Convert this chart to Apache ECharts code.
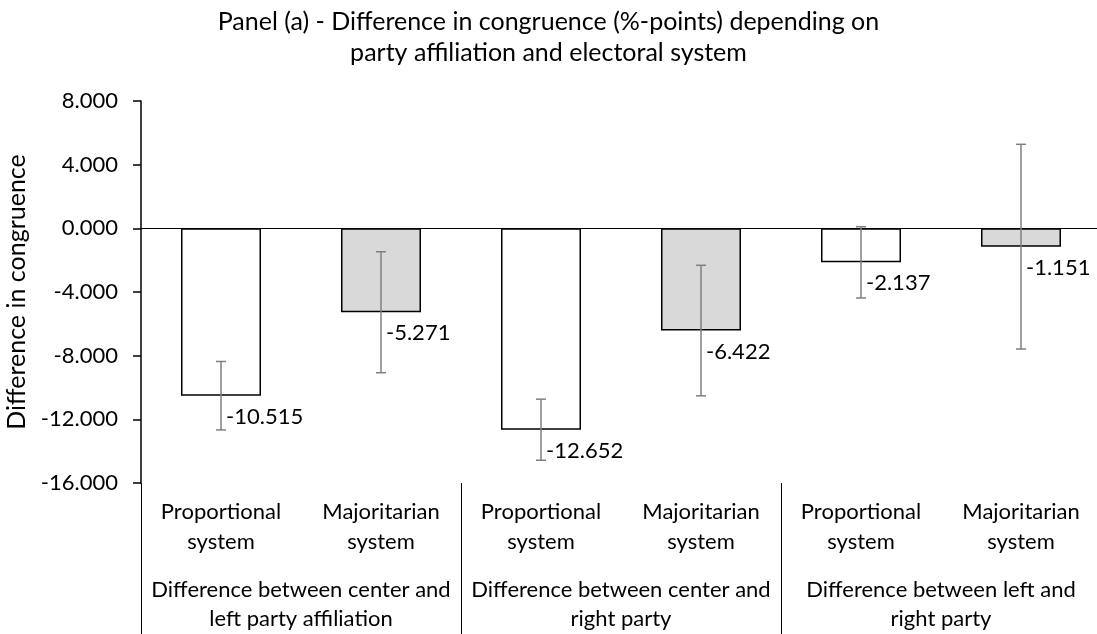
<!DOCTYPE html>
<html>
<head>
<meta charset="utf-8">
<title>Panel (a)</title>
<script src="https://cdn.jsdelivr.net/npm/echarts@6/dist/echarts.min.js"></script>
<style>
  html, body { margin: 0; padding: 0; background: #fff; }
  #chart { width: 1097px; height: 634px; }
</style>
</head>
<body>
<div id="chart"></div>
<script>
// data
const subCategories = [
  'Proportional\nsystem', 'Majoritarian\nsystem',
  'Proportional\nsystem', 'Majoritarian\nsystem',
  'Proportional\nsystem', 'Majoritarian\nsystem'
]
const groupLabels = [
  'Difference between center and\nleft party affiliation',
  'Difference between center and\nright party',
  'Difference between left and\nright party'
]
const values = [-10.515, -5.271, -12.652, -6.422, -2.137, -1.151]
// half width of the error bars (symmetric)
const errors = [2.15, 3.80, 1.92, 4.10, 2.24, 6.43]
const yMin = -16
const yMax = 8
const yStep = 4

const FONT = 'Lato, "Liberation Sans", sans-serif'
const fills = ['#ffffff', '#d9d9d9']

const chart = echarts.init(document.getElementById('chart'))

const errorData = values.map((v, i) => [i, v - errors[i], v + errors[i]])

const option = {
  backgroundColor: '#fff',
  animation: false,
  title: {
    text: 'Panel (a) - Difference in congruence (%-points) depending on\nparty affiliation and electoral system',
    left: 'center',
    top: 1,
    textStyle: {
      fontFamily: FONT,
      fontSize: 25,
      lineHeight: 31,
      fontWeight: 'normal',
      color: '#000'
    }
  },
  grid: {
    left: 141,
    right: -4,
    top: 101,
    bottom: 151,
    outerBoundsMode: 'none'
  },
  xAxis: [
    {
      type: 'category',
      position: 'bottom',
      data: subCategories,
      axisLine: { show: false, onZero: false },
      axisTick: { show: false },
      axisLabel: {
        interval: 0,
        margin: 14,
        fontFamily: FONT,
        fontSize: 22,
        lineHeight: 30,
        color: '#000'
      }
    },
    {
      type: 'category',
      position: 'bottom',
      data: groupLabels,
      axisLine: { show: false, onZero: false },
      axisTick: {
        show: true,
        interval: 0,
        length: 151,
        lineStyle: { color: '#000', width: 1 }
      },
      axisLabel: {
        interval: 0,
        margin: 92,
        fontFamily: FONT,
        fontSize: 22,
        lineHeight: 29,
        color: '#000'
      }
    }
  ],
  yAxis: {
    type: 'value',
    min: yMin,
    max: yMax,
    interval: yStep,
    name: 'Difference in congruence',
    nameLocation: 'middle',
    nameRotate: 90,
    nameGap: 91,
    nameTextStyle: {
      fontFamily: FONT,
      fontSize: 25,
      color: '#000'
    },
    axisLine: { show: true, lineStyle: { color: '#000', width: 1.5 } },
    axisTick: { show: true, length: 8, lineStyle: { color: '#000', width: 1.5 } },
    splitLine: { show: false },
    axisLabel: {
      margin: 23,
      fontFamily: FONT,
      fontSize: 22,
      color: '#000',
      formatter: v => v.toFixed(3)
    }
  },
  series: [
    {
      type: 'bar',
      xAxisIndex: 0,
      data: values,
      barWidth: 80,
      itemStyle: {
        color: p => fills[p.dataIndex % 2],
        borderColor: '#000',
        borderWidth: 1.5
      },
      label: {
        show: true,
        position: ['50%', '100%'],
        offset: [5, 21],
        align: 'left',
        verticalAlign: 'middle',
        fontFamily: FONT,
        fontSize: 22,
        color: '#000',
        formatter: p => p.value.toFixed(3)
      },
      markLine: {
        silent: true,
        symbol: 'none',
        label: { show: false },
        lineStyle: { color: '#000', width: 1.2, type: 'solid' },
        data: [{ yAxis: 0 }]
      },
      z: 2
    },
    {
      type: 'custom',
      xAxisIndex: 0,
      data: errorData,
      z: 5,
      renderItem: (params, api) => {
        const lo = api.coord([api.value(0), api.value(1)])
        const hi = api.coord([api.value(0), api.value(2)])
        const cap = 5
        const style = { stroke: '#7f7f7f', lineWidth: 1.5 }
        return {
          type: 'group',
          children: [
            { type: 'line', shape: { x1: lo[0], y1: lo[1], x2: hi[0], y2: hi[1] }, style },
            { type: 'line', shape: { x1: lo[0] - cap, y1: lo[1], x2: lo[0] + cap, y2: lo[1] }, style },
            { type: 'line', shape: { x1: hi[0] - cap, y1: hi[1], x2: hi[0] + cap, y2: hi[1] }, style }
          ]
        }
      }
    }
  ]
}

chart.setOption(option)
</script>
</body>
</html>
